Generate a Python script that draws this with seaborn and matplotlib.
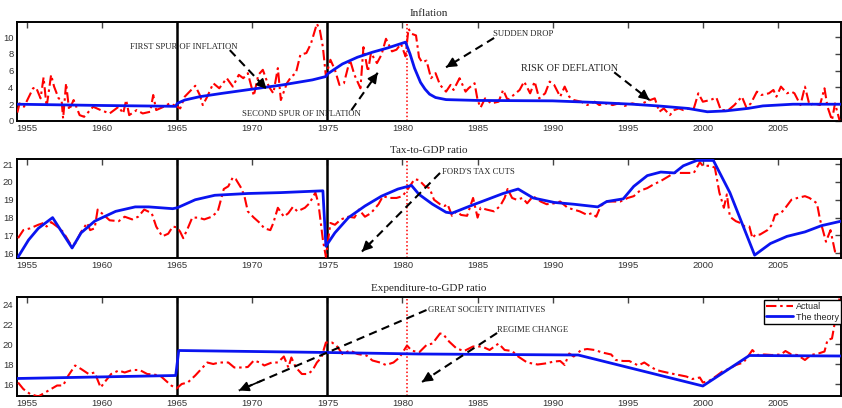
import numpy as np
import pandas as pd
import matplotlib
matplotlib.use("Agg")
import matplotlib.pyplot as plt
import seaborn as sns

# ---------------- data ----------------
infl_years = [1954.35,1954.5,1954.8,1955.4,1955.6,1955.9,1956.1,1956.3,1956.4,1956.6,1956.8,1957.1,1957.3,1957.4,
              1957.6,1957.8,1958.1,1958.5,1958.8,1959.4,1959.9,1960.5,1961.1,1961.4,1961.6,1961.8,1962.3,1962.7,
              1963.2,1963.4,1963.6,1964.1,1964.5,1964.9,1965.2,1965.5,1966.2,1966.5,1966.7,1967.0,1967.4,1967.8,
              1968.3,1968.7,1969.1,1969.4,1969.7,1970.1,1970.4,1970.7,1971.1,1971.4,1971.7,1971.9,1972.3,1972.6,
              1972.9,1973.2,1973.6,1973.9,1974.3,1974.5,1974.7,1974.9,1975.2,1975.5,1975.8,1976.1,1976.5,1976.8,
              1977.2,1977.4,1977.7,1977.9,1978.3,1978.6,1978.9,1979.3,1979.6,1979.9,1980.2,1980.4,1980.6,1980.9,
              1981.1,1981.3,1981.6,1981.9,1982.2,1982.5,1982.9,1983.2,1983.4,1983.8,1984.2,1984.4,1984.8,1985.0,
              1985.2,1985.5,1985.9,1986.4,1986.7,1987.0,1987.4,1987.8,1988.1,1988.5,1988.8,1989.1,1989.5,1989.8,
              1990.1,1990.5,1990.8,1991.1,1991.4,1991.9,1992.3,1992.8,1993.1,1993.5,1994.0,1994.4,1994.8,1995.3,
              1995.8,1996.1,1996.5,1996.8,1997.1,1997.4,1997.8,1998.1,1998.4,1998.7,1999.1,1999.4,1999.7,2000.0,
              2000.5,2000.9,2001.2,2001.7,2002.1,2002.6,2002.9,2003.2,2003.6,2003.9,2004.4,2004.7,2004.9,2005.2,
              2005.6,2005.9,2006.1,2006.5,2006.8,2007.1,2007.4,2007.8,2008.1,2008.3,2008.6,2008.8,2009.1]
infl_actual = [1.0,2.1,1.7,3.9,4.0,2.7,5.2,1.7,2.9,5.5,4.1,2.7,2.5,0.3,
               4.5,1.3,2.5,0.7,0.5,1.7,1.3,0.9,1.7,0.9,2.5,0.7,1.3,0.9,
               1.1,3.1,1.3,1.7,2.1,1.8,1.5,2.9,4.2,3.1,1.9,2.9,4.5,3.9,
               5.1,4.1,5.5,5.1,5.7,3.0,5.5,6.1,4.1,3.3,6.3,2.5,4.5,5.3,
               5.7,7.9,8.1,9.2,11.6,10.8,8.8,5.3,7.3,6.1,4.3,4.5,7.3,5.5,
               3.9,8.8,5.9,8.1,6.9,7.9,9.8,8.3,8.5,9.2,7.7,11.0,10.4,10.2,
               7.6,7.0,7.2,5.1,5.7,4.3,3.5,4.3,3.7,5.1,3.5,3.9,4.5,2.5,
               1.6,2.7,2.1,2.3,3.7,2.5,3.1,3.7,4.7,3.3,4.7,2.7,3.3,4.7,
               4.3,2.9,4.1,2.9,2.5,2.3,1.9,2.3,1.9,2.1,1.9,2.1,1.8,2.1,
               1.9,2.2,2.5,2.7,1.1,1.5,0.7,1.3,1.5,1.3,1.5,1.5,3.3,2.3,
               2.5,2.8,1.3,1.3,1.9,2.9,1.6,2.1,3.5,3.1,3.3,3.7,2.9,4.1,
               3.3,3.5,3.3,1.9,4.1,1.9,2.1,1.9,3.9,1.7,0.1,2.1,0.1]
infl_theory_years = [1954.33,1960.0,1964.9,1965.0,1965.5,1966.5,1968.0,1970.0,1972.0,1974.0,1974.9,
                     1975.0,1976.0,1977.0,1978.0,1979.0,1980.2,1980.5,1980.8,1981.2,1981.5,1981.8,
                     1982.2,1982.9,1985.0,1990.0,1993.0,1995.3,1997.0,1999.0,2000.3,2001.5,2003.0,
                     2004.0,2006.0,2009.2]
infl_theory = [2.0,1.85,1.75,2.1,2.5,2.9,3.3,3.8,4.3,4.9,5.3,
               5.6,6.8,7.6,8.2,8.7,9.4,8.0,6.3,4.6,3.8,3.2,
               2.8,2.55,2.45,2.4,2.2,2.0,1.8,1.5,1.1,1.2,1.5,
               1.8,2.0,2.0]

tax_years = [1954.4,1954.75,1955.2,1955.75,1956.1,1956.3,1956.6,1957.0,1957.4,1957.9,1958.2,1958.6,1959.0,
             1959.2,1959.5,1959.7,1960.1,1960.5,1961.1,1961.5,1962.0,1962.4,1962.8,1963.3,1963.6,1964.0,
             1964.4,1964.7,1965.0,1965.2,1965.4,1965.7,1966.0,1966.4,1966.8,1967.3,1967.7,1968.1,1968.4,
             1968.7,1968.9,1969.3,1969.5,1969.7,1970.1,1970.5,1970.8,1971.2,1971.4,1971.7,1972.1,1972.4,
             1972.7,1973.0,1973.5,1973.8,1974.2,1974.4,1974.7,1974.9,1975.2,1975.5,1975.9,1976.4,1976.8,
             1977.1,1977.5,1977.9,1978.4,1978.7,1979.1,1979.6,1980.0,1980.4,1980.8,1981.1,1981.5,1981.8,
             1982.1,1982.5,1982.8,1983.0,1983.3,1983.6,1983.9,1984.3,1984.7,1985.0,1985.2,1985.6,1986.1,
             1986.5,1986.8,1987.0,1987.3,1987.6,1988.0,1988.3,1988.7,1989.2,1989.6,1990.1,1990.5,1991.0,
             1991.4,1991.8,1992.3,1992.6,1992.9,1993.2,1993.6,1994.1,1994.5,1995.0,1995.4,1995.8,1996.3,
             1996.7,1997.2,1997.6,1998.1,1998.5,1998.9,1999.4,1999.6,1999.8,2000.0,2000.5,2000.8,2001.1,
             2001.4,2001.6,2001.8,2002.2,2002.5,2002.8,2003.1,2003.3,2003.5,2003.8,2004.3,2004.6,2004.8,
             2005.2,2005.5,2005.9,2006.3,2006.8,2007.1,2007.6,2007.8,2008.2,2008.5,2008.8,2009.1]
tax_actual = [16.85,17.3,17.4,17.6,17.7,17.5,17.75,17.5,17.2,16.5,16.55,17.2,17.7,
              17.3,17.4,18.45,18.15,17.85,17.8,18.05,17.9,18.05,18.45,18.25,17.5,16.95,
              17.1,17.5,17.45,17.2,16.85,17.4,18.0,18.0,17.9,18.05,18.35,19.6,19.75,
              20.25,20.15,19.6,19.1,18.35,18.0,17.7,17.4,17.3,17.7,18.55,18.05,18.25,
              18.6,18.35,18.55,18.8,19.4,18.8,16.75,15.8,17.7,17.6,17.9,18.05,18.0,
              18.45,18.05,18.25,18.75,19.2,19.1,19.1,19.2,19.65,20.15,20.1,19.75,19.65,
              19.0,18.75,18.65,18.75,18.1,18.35,18.15,18.1,19.1,18.0,18.55,18.45,18.35,
              18.65,19.1,19.6,19.1,19.0,19.1,18.8,19.2,18.9,18.75,18.8,18.9,18.55,
              18.45,18.35,18.15,18.25,18.05,18.65,18.9,18.9,18.9,19.1,19.2,19.5,19.65,
              19.85,20.05,20.25,20.5,20.5,20.5,20.5,20.8,21.1,20.9,20.9,20.8,19.4,
              18.55,19.3,18.05,17.8,17.7,17.5,17.5,16.85,17.05,17.05,17.3,17.6,18.15,
              18.25,18.55,19.0,19.1,19.2,19.1,18.8,17.9,16.65,17.3,16.1,16.0]
tax_theory_years = [1954.33,1955.1,1955.75,1956.7,1958.0,1958.6,1959.5,1960.9,1962.2,1963.1,1964.7,1965.0,
                    1966.2,1967.5,1969.7,1971.9,1974.7,1974.9,1975.5,1976.4,1977.5,1978.6,1979.7,1980.6,
                    1981.1,1982.0,1982.9,1983.3,1984.5,1985.6,1986.7,1987.7,1988.7,1990.1,1991.4,1993.0,
                    1993.6,1994.7,1995.4,1996.3,1997.2,1998.1,1998.7,1999.6,2000.7,2001.8,2003.45,2004.5,
                    2005.6,2006.8,2007.9,2009.2]
tax_theory = [15.7,16.75,17.4,18.0,16.3,17.15,17.8,18.35,18.6,18.6,18.5,18.55,
              19.0,19.25,19.35,19.4,19.5,16.4,17.15,18.0,18.65,19.2,19.6,19.8,
              19.3,18.75,18.3,18.25,18.65,19.0,19.35,19.6,19.1,18.85,18.75,18.6,
              18.9,19.05,19.75,20.35,20.55,20.5,20.9,21.2,21.2,19.4,15.9,16.55,
              16.95,17.2,17.55,17.8]

exp_years = [1954.4,1954.75,1955.2,1955.75,1956.2,1956.6,1957.0,1957.4,1957.75,1958.2,1958.6,1959.1,1959.5,
             1959.9,1960.2,1960.6,1961.1,1961.5,1962.0,1962.5,1963.0,1963.4,1963.85,1964.3,1964.6,1964.95,
             1965.3,1965.7,1966.2,1966.6,1967.0,1967.4,1967.8,1968.4,1968.8,1969.3,1969.7,1970.1,1970.5,
             1970.8,1971.3,1971.7,1972.1,1972.4,1972.6,1972.9,1973.3,1973.7,1974.0,1974.3,1974.6,1974.9,
             1975.3,1975.6,1976.0,1976.5,1977.0,1977.6,1978.0,1978.5,1978.9,1979.4,1979.8,1980.3,1980.6,
             1981.1,1981.6,1982.0,1982.5,1982.7,1983.1,1983.6,1984.1,1984.7,1985.3,1985.8,1986.4,1986.8,
             1987.3,1987.7,1988.3,1989.0,1989.5,1990.1,1990.5,1990.8,1991.1,1991.4,1991.9,1992.3,1992.8,
             1993.3,1993.9,1994.2,1994.7,1995.1,1995.7,1996.1,1996.5,1996.9,1997.3,1997.9,1998.4,1998.9,
             1999.3,1999.8,2000.0,2000.4,2000.9,2001.3,2001.8,2002.2,2002.7,2003.0,2003.3,2003.6,2004.1,
             2004.6,2005.2,2005.5,2005.9,2006.3,2006.8,2007.2,2007.7,2008.1,2008.3,2008.6,2008.8,2009.1]
exp_actual = [16.15,15.5,15.0,14.75,15.15,15.5,15.85,15.85,16.85,17.85,17.5,17.0,17.15,
              15.65,16.25,17.0,17.35,17.15,17.4,17.4,17.0,16.95,16.85,16.25,15.85,15.55,
              16.0,16.15,16.85,17.5,18.15,18.0,18.15,18.15,17.65,17.65,17.7,18.35,18.15,
              17.85,18.15,18.15,18.75,17.65,18.65,17.65,17.0,17.0,17.35,18.15,18.65,20.15,
              20.15,19.85,19.0,19.35,19.0,18.85,18.35,18.15,17.9,18.15,18.65,19.85,19.35,
              19.15,19.9,20.05,21.05,21.0,20.25,19.55,19.3,19.75,19.75,19.4,20.05,19.4,
              19.3,18.75,18.15,17.95,18.05,18.25,18.3,17.9,19.05,18.75,19.4,19.5,19.4,
              19.15,18.95,18.4,18.3,18.3,17.85,18.15,17.75,17.4,17.25,17.05,16.9,16.75,
              16.5,16.65,16.15,16.3,16.8,17.25,17.55,17.9,18.15,18.75,19.4,18.9,18.95,
              18.9,18.95,19.3,18.95,18.9,18.4,18.9,19.05,19.25,20.4,20.55,22.25,24.55]
exp_theory_years = [1954.33,1964.9,1965.1,1975.0,1981.1,1991.7,2000.0,2003.1,2009.2]
exp_theory = [16.55,16.85,19.35,19.15,19.0,18.9,15.8,18.85,18.8]

x_ticks = [1955, 1960, 1965, 1970, 1975, 1980, 1985, 1990, 1995, 2000, 2005]
panel_titles = ["Inflation", "Tax-to-GDP ratio", "Expenditure-to-GDP ratio"]
y_ticks = [[0, 2, 4, 6, 8, 10], [16, 17, 18, 19, 20, 21], [16, 18, 20, 22, 24]]
y_lims = [(0, 11.8), (15.74, 21.28), (14.8, 24.7)]

# ---------------- plot ----------------
sns.set_style("white")
plt.rcParams["font.family"] = ["Liberation Sans", "DejaVu Sans"]
fig = plt.figure(figsize=(8.42, 4.08), dpi=100)

W = 842.0; H = 408.0
tops = [22, 159, 297]
axes = []
for t in tops:
    axes.append(fig.add_axes([17 / W, (H - t - 99) / H, 824 / W, 99 / H]))

series = [
    (infl_years, infl_actual, infl_theory_years, infl_theory),
    (tax_years, tax_actual, tax_theory_years, tax_theory),
    (exp_years, exp_actual, exp_theory_years, exp_theory),
]

dashdot = (0, (5, 1.8, 1.2, 1.8))
for i, ax in enumerate(axes):
    xa, ya, xt, yt = series[i]
    da = pd.DataFrame({"year": xa, "value": ya})
    dt = pd.DataFrame({"year": xt, "value": yt})
    ax.axvline(1965, color="black", lw=1.8, zorder=1)
    ax.axvline(1975, color="black", lw=1.8, zorder=1)
    ax.axvline(1980.3, color="red", lw=1.1, ls=(0, (1, 1.5)), zorder=1)
    sns.lineplot(data=da, x="year", y="value", ax=ax, color="red", lw=1.5,
                 linestyle=dashdot, sort=False, estimator=None, label="Actual", zorder=3)
    sns.lineplot(data=dt, x="year", y="value", ax=ax, color="#0a14f0", lw=2.0,
                 sort=False, estimator=None, label="The theory", zorder=4)
    ax.set_xlim(1954.33, 2009.2)
    ax.set_ylim(*y_lims[i])
    ax.set_xticks(x_ticks)
    ax.set_yticks(y_ticks[i])
    ax.set_xlabel("")
    ax.set_ylabel("")
    ax.tick_params(direction="in", top=True, right=True, length=4.5, width=1.0,
                   color="#444444", labelsize=6.8, labelcolor="#333333", pad=2.5)
    for s in ax.spines.values():
        s.set_color("black")
        s.set_linewidth(1.4)
    ax.set_title(panel_titles[i], fontsize=8, family=["Liberation Serif"], pad=4.5)
    if i < 2:
        ax.get_legend().remove()

leg = axes[2].legend(loc="upper left", bbox_to_anchor=(0.906, 0.97), fontsize=6.5,
                     frameon=True, fancybox=False, edgecolor="black", framealpha=1,
                     borderpad=0.25, labelspacing=0.15, handlelength=3.0, handletextpad=0.3,
                     borderaxespad=0)
leg.get_frame().set_linewidth(1.0)


def arrow(ax, tail, head):
    ax.plot([tail[0], head[0]], [tail[1], head[1]], color="black", lw=1.5,
            ls=(0, (4, 2.5)), zorder=6)
    pre = (head[0] + 0.12 * (tail[0] - head[0]), head[1] + 0.12 * (tail[1] - head[1]))
    ax.annotate("", xy=head, xytext=pre,
                arrowprops=dict(arrowstyle="-|>,head_length=0.6,head_width=0.3",
                                color="black", lw=1.2, shrinkA=0, shrinkB=0), zorder=7)


serif = ["Liberation Serif"]
fs = 6.2
a0, a1, a2 = axes
a0.text(1961.85, 8.8, "FIRST SPUR OF INFLATION", fontsize=fs, family=serif, va="center", zorder=8)
arrow(a0, (1968.5, 8.45), (1970.95, 3.8))
a0.text(1969.3, 0.85, "SECOND SPUR OF INFLATION", fontsize=fs, family=serif, va="center", zorder=8)
arrow(a0, (1976.6, 1.3), (1978.35, 5.75))
a0.text(1986.0, 10.35, "SUDDEN DROP", fontsize=fs, family=serif, va="center", zorder=8)
arrow(a0, (1986.1, 9.9), (1982.9, 6.4))
a0.text(1987.9, 6.3, "RISK OF DEFLATION", fontsize=7.4, family=serif, va="center", zorder=8)
arrow(a0, (1994.1, 5.8), (1996.45, 2.5))

a1.text(1982.6, 20.55, "FORD'S TAX CUTS", fontsize=fs, family=serif, va="center", zorder=8)
arrow(a1, (1982.5, 20.5), (1977.3, 16.1))

a2.text(1981.7, 23.4, "GREAT SOCIETY INITIATIVES", fontsize=fs, family=serif, va="center", zorder=8)
arrow(a2, (1981.6, 23.4), (1969.1, 15.35))
a2.text(1986.3, 21.4, "REGIME CHANGE", fontsize=fs, family=serif, va="center", zorder=8)
arrow(a2, (1986.3, 21.1), (1981.3, 16.2))

fig.savefig("out.png", dpi=100)
